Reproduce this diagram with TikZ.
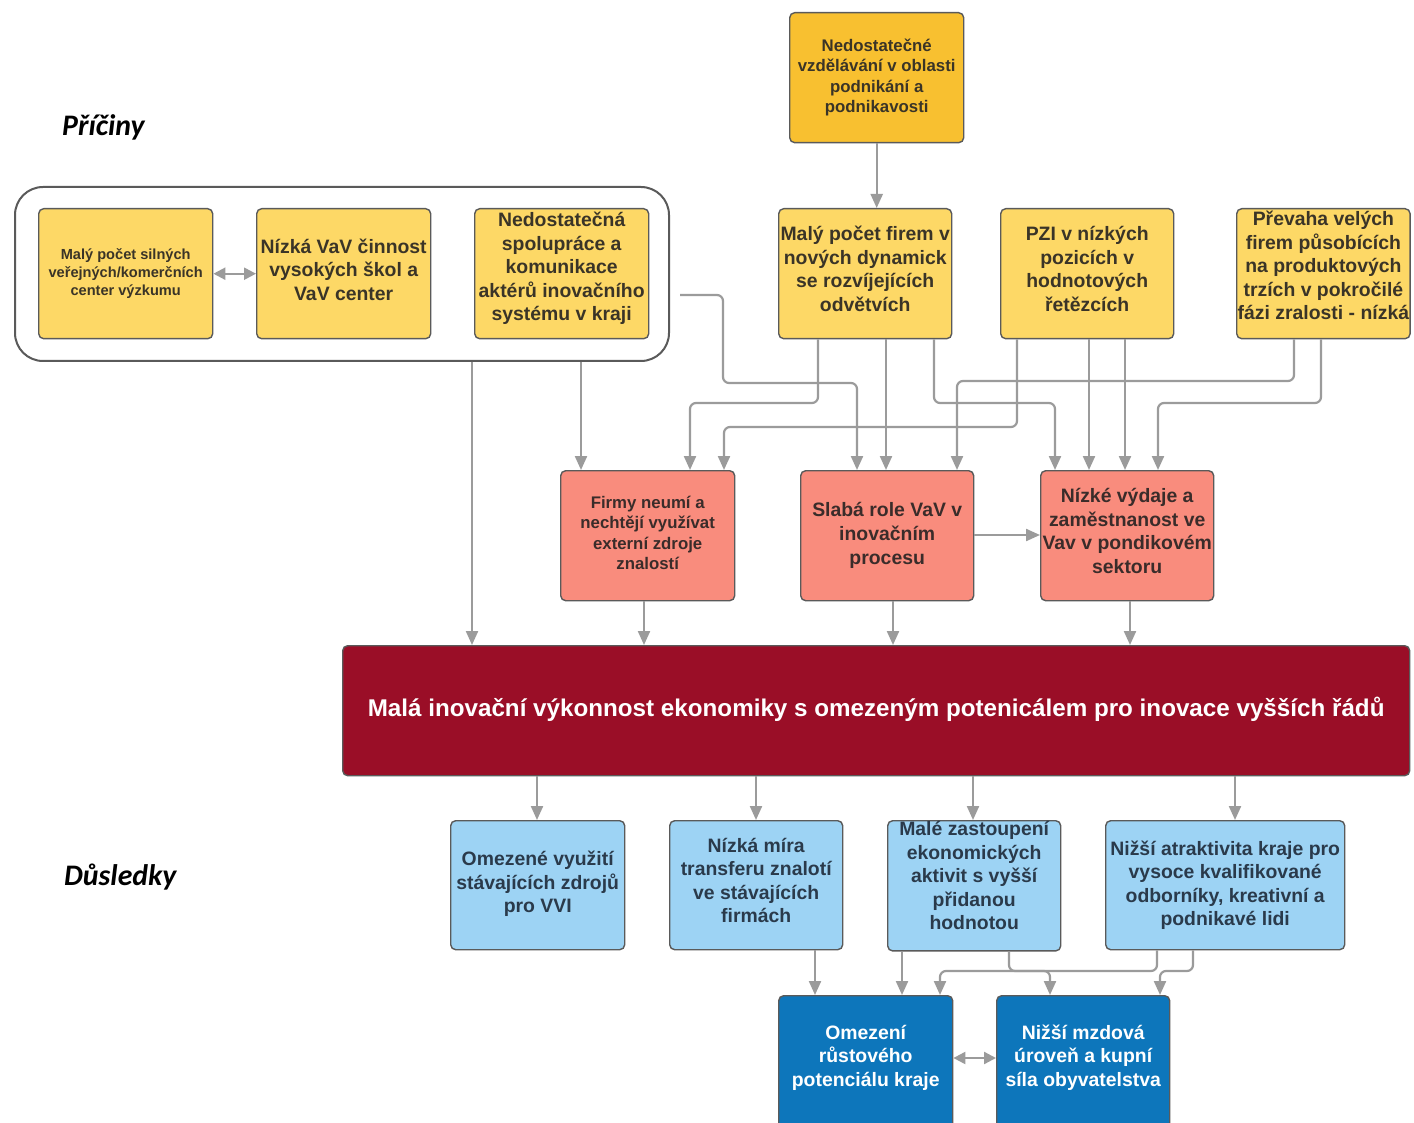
\documentclass[tikz,border=0pt]{standalone}
\usepackage{fontspec}
\setmainfont{Liberation Sans}
\newfontfamily\calfont{Carlito}
\usetikzlibrary{arrows.meta}
\definecolor{ctop}{HTML}{F8C030}
\definecolor{cyel}{HTML}{FDD866}
\definecolor{cred}{HTML}{F98C7D}
\definecolor{cmar}{HTML}{9A0E27}
\definecolor{clb}{HTML}{9DD3F4}
\definecolor{cdb}{HTML}{0D76BB}
\definecolor{cline}{HTML}{9B9B9B}
\definecolor{cbord}{HTML}{5A5A5A}
\definecolor{ctxt}{HTML}{3A3427}
\definecolor{ctxtr}{HTML}{3A2C2A}
\definecolor{ctxtb}{HTML}{2A3A4B}
\newcommand\myfs[2]{\fontsize{#1}{#2}\selectfont\bfseries}
\tikzset{
  box/.style={draw=cbord, line width=1.4pt, rounded corners=5pt, align=center,
    inner sep=1pt, anchor=north west, minimum height=130pt},
  ybox/.style={box, fill=cyel, text=ctxt},
  tbox/.style={box, fill=ctop, text=ctxt},
  rbox/.style={box, fill=cred, text=ctxtr},
  lbox/.style={box, fill=clb, text=ctxtb, minimum height=129pt},
  dbox/.style={box, fill=cdb, text=white},
  big/.style={font=\myfs{19.4}{23.5}},
  mid/.style={font=\myfs{16.8}{20.5}},
  conn/.style={draw=cline, line width=2.2pt, rounded corners=6pt,
    -{Triangle[length=14pt,width=12pt]}},
  dconn/.style={draw=cline, line width=2.2pt,
    {Triangle[length=12pt,width=12pt]}-{Triangle[length=12pt,width=12pt]}},
  lab/.style={font=\calfont\bfseries\itshape\fontsize{29.8}{34}\selectfont, anchor=west, inner sep=0pt}
}
\begin{document}
\begin{tikzpicture}[x=1pt,y=-1pt]
\clip (0,0) rectangle (1414,1123);
\fill[white] (0,0) rectangle (1414,1123);

% labels
\node[lab] (lp) at (62,127) {Příčiny};
\node[lab] (ld) at (64,877) {Důsledky};

% container
\node[draw=cbord, line width=2pt, rounded corners=28pt, minimum width=654pt,
  minimum height=174pt, anchor=north west, inner sep=0pt] (C) at (14,186) {};

% cause boxes
\node[tbox, mid, minimum width=174pt] (T) at (789,12)
  {Nedostatečné\\vzdělávání v oblasti\\podnikání a\\podnikavosti\\[-16.5pt]};
\node[ybox, font=\myfs{14.6}{18}, minimum width=174pt] (A1) at (38,208)
  {Malý počet silných\\veřejných/komerčních\\center výzkumu};
\node[ybox, big, minimum width=174pt] (A2) at (256,208)
  {Nízká VaV činnost\\vysokých škol a\\VaV center\\[-15.5pt]};
\node[ybox, big, minimum width=174pt] (A3) at (474,208)
  {Nedostatečná\\spolupráce a\\komunikace\\aktérů inovačního\\systému v kraji\\[-9.5pt]};
\node[ybox, big, minimum width=173pt] (B1) at (778,208)
  {Malý počet firem v\\nových dynamick\\se rozvíjejících\\odvětvích\\[-13.5pt]};
\node[ybox, big, minimum width=173pt] (B2) at (1000,208)
  {PZI v nízkých\\pozicích v\\hodnotových\\řetězcích\\[-13.5pt]};
\node[ybox, big, minimum width=173pt] (B3) at (1236,208)
  {Převaha velých\\firem působících\\na produktových\\trzích v pokročilé\\fázi zralosti - nízká\\[-7.5pt]};

% red boxes
\node[rbox, mid, minimum width=174pt] (R1) at (560,470)
  {Firmy neumí a\\nechtějí využívat\\externí zdroje\\znalostí\\[-14.5pt]};
\node[rbox, font=\myfs{19.4}{24}, minimum width=173pt] (R2) at (800,470)
  {Slabá role VaV v\\inovačním\\procesu\\[-20pt]};
\node[rbox, big, minimum width=173pt] (R3) at (1040,470)
  {Nízké výdaje a\\zaměstnanost ve\\Vav v pondikovém\\sektoru\\[-13.5pt]};

% main box
\node[box, fill=cmar, text=white, font=\myfs{24.2}{28}, minimum width=1067pt] (M) at (342,645)
  {Malá inovační výkonnost ekonomiky s omezeným potenicálem pro inovace vyšších řádů\\[-20pt]};

% consequences
\node[lbox, big, minimum width=174pt] (L1) at (450,820)
  {Omezené využití\\stávajících zdrojů\\pro VVI\\[-17.5pt]};
\node[lbox, big, minimum width=173pt] (L2) at (669,820)
  {Nízká míra\\transferu znalotí\\ve stávajících\\firmách\\[-13.5pt]};
\node[lbox, big, minimum width=173pt] (L3) at (887,820)
  {Malé zastoupení\\ekonomických\\aktivit s vyšší\\přidanou\\hodnotou\\[-3.5pt]};
\node[lbox, big, minimum width=239pt] (L4) at (1105,820)
  {Nižší atraktivita kraje pro\\vysoce kvalifikované\\odborníky, kreativní a\\podnikavé lidi};
\node[dbox, big, minimum width=174pt, minimum height=134pt] (D1) at (778,995)
  {Omezení\\růstového\\potenciálu kraje\\[-9pt]};
\node[dbox, big, minimum width=173pt, minimum height=134pt] (D2) at (996,995)
  {Nižší mzdová\\úroveň a kupní\\síla obyvatelstva\\[-9pt]};

% connectors - causes
\coordinate (cs) at (680,295);
\draw[conn] (T.south) -- (B1.north -| T.south);
\draw[dconn] (A1.east) -- (A2.west);
\draw[conn] (C.south -| 472,0) -- (M.north -| 472,0);
\draw[conn] (C.south -| 581,0) -- (R1.north -| 581,0);
\draw[conn] (cs) -- (723,295) -- (723,383) -- (857,383) -- (R2.north -| 857,0);
\draw[conn] (B1.south -| 818,0) -- (818,403) -- (690,403) -- (R1.north -| 690,0);
\draw[conn] (B1.south -| 886,0) -- (R2.north -| 886,0);
\draw[conn] (B1.south -| 934,0) -- (934,403) -- (1055,403) -- (R3.north -| 1055,0);
\draw[conn] (B2.south -| 1017,0) -- (1017,427) -- (724,427) -- (R1.north -| 724,0);
\draw[conn] (B2.south -| 1089,0) -- (R3.north -| 1089,0);
\draw[conn] (B2.south -| 1125,0) -- (R3.north -| 1125,0);
\draw[conn] (B3.south -| 1294,0) -- (1294,381) -- (957,381) -- (R2.north -| 957,0);
\draw[conn] (B3.south -| 1321,0) -- (1321,403) -- (1158,403) -- (R3.north -| 1158,0);
\draw[conn] (R2.east |- 0,535) -- (R3.west |- 0,535);
\draw[conn] (R1.south -| 644,0) -- (M.north -| 644,0);
\draw[conn] (R2.south -| 893,0) -- (M.north -| 893,0);
\draw[conn] (R3.south -| 1130,0) -- (M.north -| 1130,0);

% connectors - consequences
\draw[conn] (M.south -| 537,0) -- (L1.north -| 537,0);
\draw[conn] (M.south -| 756,0) -- (L2.north -| 756,0);
\draw[conn] (M.south -| 973,0) -- (L3.north -| 973,0);
\draw[conn] (M.south -| 1235,0) -- (L4.north -| 1235,0);
\draw[conn] (L2.south -| 815,0) -- (D1.north -| 815,0);
\draw[conn] (L3.south -| 902,0) -- (D1.north -| 902,0);
\draw[conn] (L3.south -| 1009,0) -- (1009,971) -- (1050,971) -- (D2.north -| 1050,0);
\draw[conn] (L4.south -| 1157,0) -- (1157,971) -- (940,971) -- (D1.north -| 940,0);
\draw[conn] (L4.south -| 1193,0) -- (1193,971) -- (1160,971) -- (D2.north -| 1160,0);
\draw[dconn] (D1.east |- 0,1058) -- (D2.west |- 0,1058);
\end{tikzpicture}
\end{document}
